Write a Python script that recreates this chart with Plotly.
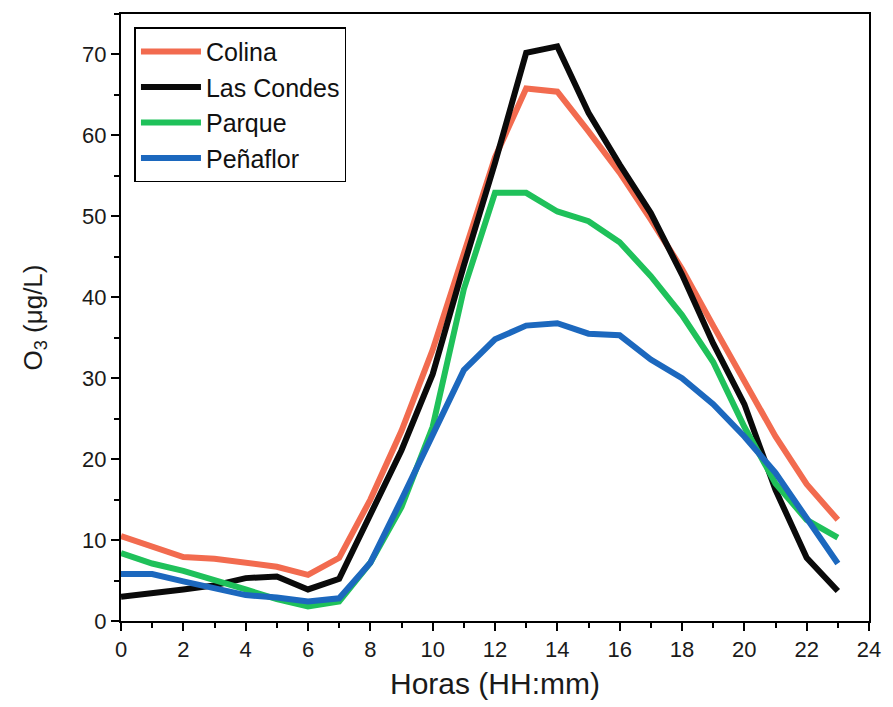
import plotly.graph_objects as go

hours = list(range(24))
colina = [10.5, 9.2, 7.9, 7.7, 7.2, 6.7, 5.7, 7.8, 15.0, 23.5, 33.5, 45.2, 57.3, 65.8, 65.4, 60.5, 55.4, 49.6, 43.5, 36.5, 29.8, 22.8, 16.9, 12.5]
las_condes = [3.0, 3.4, 3.9, 4.4, 5.3, 5.5, 3.9, 5.2, 13.3, 21.1, 30.5, 43.9, 56.6, 70.2, 71.0, 62.8, 56.4, 50.4, 42.8, 34.3, 26.8, 16.2, 7.8, 3.7]
parque = [8.4, 7.1, 6.2, 5.1, 3.9, 2.7, 1.8, 2.4, 7.2, 14.1, 24.0, 41.0, 52.9, 52.9, 50.6, 49.4, 46.8, 42.6, 37.8, 32.0, 24.0, 17.0, 12.5, 10.3]
penaflor = [5.8, 5.8, 4.9, 4.0, 3.2, 2.9, 2.4, 2.8, 7.2, 15.0, 23.2, 31.0, 34.8, 36.5, 36.8, 35.5, 35.3, 32.3, 30.0, 26.8, 22.8, 18.3, 12.7, 7.1]

names = ["Colina", "Las Condes", "Parque", "Peñaflor"]
series = [colina, las_condes, parque, penaflor]
colors = ["#F26B4F", "#0A0A0A", "#1FC15A", "#1C68BE"]

fig = go.Figure()
for n, s, c in zip(names, series, colors):
    fig.add_trace(go.Scatter(x=hours, y=s, mode="lines", name=n,
                             line=dict(color=c, width=6)))

font_family = "Liberation Sans, Arial"
axis_common = dict(
    showline=True, linecolor="black", linewidth=2, mirror=True,
    ticks="outside", tickcolor="black", tickwidth=2, ticklen=8,
    showgrid=False, zeroline=False,
    tickfont=dict(family=font_family, size=22, color="#1a1a1a"),
)

fig.update_xaxes(range=[0, 24], dtick=2, tick0=0,
                 minor=dict(dtick=1, ticks="outside", ticklen=5, tickcolor="black", tickwidth=2),
                 title=dict(text="Horas (HH:mm)", font=dict(family=font_family, size=30, color="#1a1a1a"), standoff=12),
                 **axis_common)
fig.update_yaxes(range=[0, 75], dtick=10, tick0=0,
                 minor=dict(dtick=5, ticks="outside", ticklen=5, tickcolor="black", tickwidth=2),
                 title=dict(text="O<sub>3</sub> (μg/L)", font=dict(family=font_family, size=26, color="#1a1a1a"), standoff=32),
                 **axis_common)

fig.update_layout(
    width=893, height=707,
    margin=dict(l=121, r=13, t=14, b=86),
    plot_bgcolor="white", paper_bgcolor="white",
    legend=dict(x=0.018, y=0.978, xanchor="left", yanchor="top",
                bgcolor="white", bordercolor="black", borderwidth=1.5,
                font=dict(family=font_family, size=25, color="#111"),
                tracegroupgap=0, itemwidth=60),
)

fig.write_html("out.html")
